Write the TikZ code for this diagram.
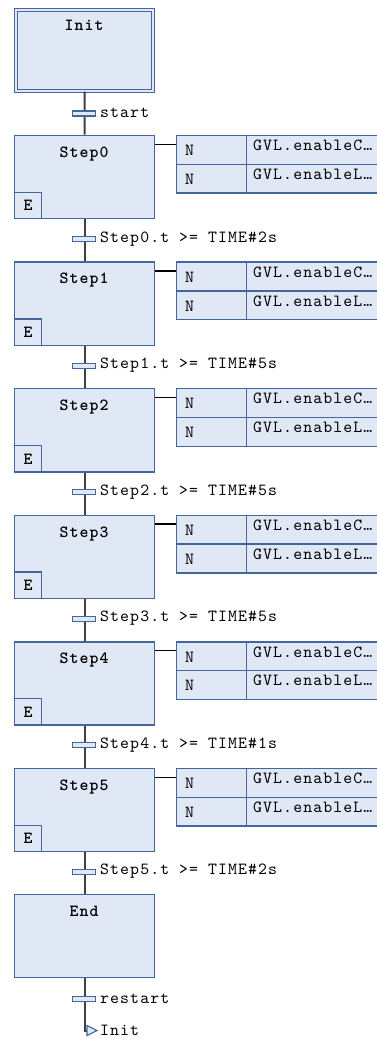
\documentclass[tikz,border=0pt]{standalone}
\usepackage{fontspec}
\newfontfamily\lmm[LetterSpace=6.4]{lmmono10-regular.otf}
\newfontfamily\lmb[LetterSpace=6.4]{lmmonolt10-bold.otf}
\usetikzlibrary{calc}
\definecolor{boxfill}{HTML}{E0E8F6}
\definecolor{boxline}{HTML}{44669A}
\definecolor{connline}{HTML}{404040}
\newcommand{\mtext}{\lmm\fontsize{17}{19}\selectfont}
\newcommand{\mbold}{\lmb\fontsize{17}{19}\selectfont}
\begin{document}
\begin{tikzpicture}[x=1pt,y=-1pt,
  stepbox/.style={draw=boxline,fill=boxfill,line width=1.4pt,minimum width=140pt,minimum height=83.3pt,anchor=north west,inner sep=0pt},
  ebox/.style={draw=boxline,fill=boxfill,line width=1.4pt,minimum width=26.7pt,minimum height=26.5pt,anchor=south west,inner sep=0pt},
  cell/.style={draw=boxline,fill=boxfill,line width=1.4pt,minimum height=28.8pt,anchor=north west,inner sep=0pt},
  trbar/.style={draw=boxline,fill=boxfill,line width=1.2pt,minimum width=23pt,minimum height=5pt,inner sep=0pt},
  conn/.style={draw=connline,line width=2pt},
  actconn/.style={draw=black,line width=1.3pt},
  lbl/.style={font=\mtext,inner sep=0pt,anchor=base west,text=black},
  blbl/.style={font=\mbold,inner sep=0pt,anchor=base,text=black}]
\useasboundingbox (0,0) rectangle (377,1039);
\clip (0,0) rectangle (377,1039);
% Init step (double border)
\node[draw=boxline,fill=boxfill,line width=1.1pt,double=boxfill,double distance=1.4pt,minimum width=137pt,minimum height=81pt,anchor=north west,inner sep=0pt] (init) at (15.5,9.5) {};
\node[blbl] (initlbl) at (84,30) {Init};
% steps
\foreach \i in {0,...,5}{
  \pgfmathsetmacro{\tp}{134.7+126.6*\i}
  \node[stepbox] (s\i) at (14,\tp) {};
  \node[blbl] (s\i lbl) at (84,\tp+22.6) {Step\i};
  \node[ebox] (e\i) at (s\i.south west) {};
  \node[blbl] (e\i lbl) at ($(e\i.center)+(0,5.5)$) {E};
  \node[cell,minimum width=70pt] (n\i a) at (176,\tp) {};
  \node[cell,minimum width=150pt] (g\i a) at (246,\tp) {};
  \node[cell,minimum width=70pt] (n\i b) at (176,\tp+28.8) {};
  \node[cell,minimum width=150pt] (g\i b) at (246,\tp+28.8) {};
  \node[lbl] (n\i alb) at (185,\tp+21) {N};
  \node[lbl] (n\i blb) at (185,\tp+49.8) {N};
  \node[lbl] (g\i alb) at (253,\tp+16) {GVL.enableC…};
  \node[lbl] (g\i blb) at (253,\tp+44.8) {GVL.enableL…};
  \coordinate (ac\i) at (176,\tp+9.6);
  \draw[actconn] (s\i.east |- ac\i) -- (ac\i);
}
% End step
\node[stepbox] (end) at (14,893.7) {};
\node[blbl] (endlbl) at (84,916.3) {End};
% connectors
\draw[conn] (init.south) -- (s0.north);
\draw[conn] (s0.south) -- (s1.north);
\draw[conn] (s1.south) -- (s2.north);
\draw[conn] (s2.south) -- (s3.north);
\draw[conn] (s3.south) -- (s4.north);
\draw[conn] (s4.south) -- (s5.north);
\draw[conn] (s5.south) -- (end.north);
\coordinate (jmp) at (87,1030.5);
\draw[conn] (end.south) |- (jmp);
% jump arrow
\draw[draw=boxline,fill=boxfill,line width=1.1pt] (87,1025.5) -- (97,1030.5) -- (87,1035.5) -- cycle;
\node[lbl] (jmplbl) at (100,1035) {Init};
% transitions
\node[trbar] (t0) at (84.2,113.5) {};
\node[lbl] (t0lbl) at (100,117.5) {start};
\foreach \i/\tt in {0/2,1/5,2/5,3/5,4/1,5/2}{
  \pgfmathsetmacro{\ty}{239.2+126.5*\i}
  \node[trbar] (tr\i) at (84.2,\ty) {};
  \node[lbl] (tr\i lbl) at (100,\ty+3) {Step\i.t >= TIME\#\tt s};
}
\node[trbar] (tend) at (84.2,999) {};
\node[lbl] (tendlbl) at (100,1003) {restart};
\end{tikzpicture}
\end{document}
